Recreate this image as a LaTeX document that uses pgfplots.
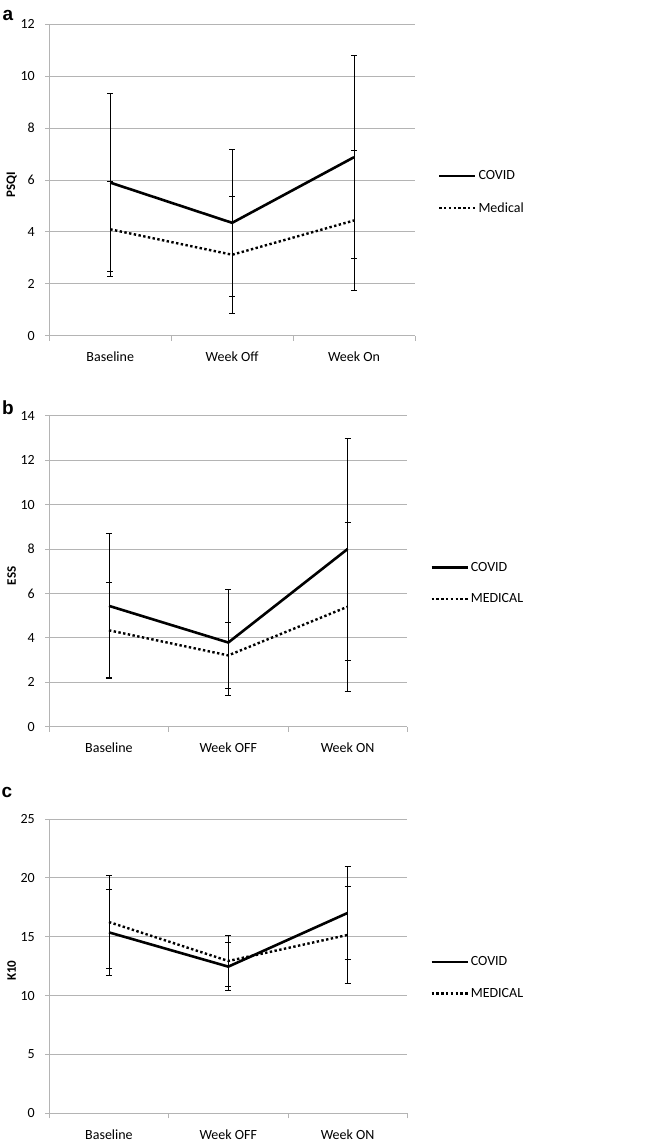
\documentclass[border=0pt]{standalone}
\usepackage{fontspec}
\setmainfont{Carlito}
\newfontfamily\letterfont{Liberation Sans}
\usepackage{pgfplots}
\pgfplotsset{compat=1.18}
\definecolor{GridGray}{RGB}{180,180,180}
\pgfplotsset{
  panel/.style={
    scale only axis, anchor=south west,
    xmin=0.5, xmax=3.5,
    axis x line=bottom, axis y line=left,
    axis line style={draw=GridGray, line width=0.9pt, -},
    xtick={1,2,3}, minor xtick={0.5,1.5,2.5,3.5},
    major x tick style={draw=none},
    minor x tick style={draw=GridGray, line width=0.9pt},
    y tick style={draw=GridGray, line width=0.9pt},
    tick align=outside, major tick length=4pt, minor tick length=5pt,
    ymajorgrids, grid style={draw=GridGray, line width=0.9pt},
    /pgf/number format/assume math mode=true,
    tick label style={font=\fontsize{14}{16}\selectfont, text=black},
    xticklabel style={yshift=-9pt},
    yticklabel style={xshift=-7pt},
    every axis y label/.style={at={(axis description cs:0,0.485)},
      rotate=90, anchor=center, yshift=37.6pt,
      font=\fontsize{13}{15}\selectfont\bfseries},
    legend style={draw=none, fill=none, anchor=west, xshift=22.7pt,
      font=\fontsize{14}{16}\selectfont, row sep=17pt, inner sep=0pt,
      legend cell align=left},
    legend image code/.code={\draw[##1] (0pt,0pt) -- (36pt,0pt);},
  },
  bars/.style={error bars/.cd, y dir=both, y explicit,
    draw error bar/.code 2 args={%
      \draw[solid, black, line width=0.8pt] ##1 -- ##2;
      \draw[solid, black, line width=0.8pt, shift={##2}] (-3pt,0pt) -- (3pt,0pt);}},
  covid/.style={black, line width=2.6pt, mark=none, bars},
  medical/.style={black, line width=2.4pt, dash pattern=on 2.4pt off 2.4pt,
    mark=none, bars},
}
\begin{document}
\begin{tikzpicture}
\path[use as bounding box] (0pt,0pt) rectangle (646pt,-1141pt);

% panel a
\begin{axis}[panel, at={(49.3pt,-335.7pt)}, width=365.7pt, height=311.4pt,
  ymin=0, ymax=12, ytick={0,2,...,12},
  xticklabels={Baseline,Week Off,Week On}, ylabel={PSQI},
  legend style={at={(axis description cs:1,0.461)}}]
\addplot[covid] table[x=x, y=y, y error=e] {
x y e
1 5.90 3.44
2 4.35 2.82
3 6.88 3.92
};
\addlegendentry{COVID}
\addplot[medical] table[x=x, y=y, y error=e] {
x y e
1 4.10 1.83
2 3.12 2.25
3 4.44 2.69
};
\addlegendentry{Medical}
\end{axis}

% panel b
\begin{axis}[panel, at={(49.3pt,-726.7pt)}, width=358pt, height=311pt,
  ymin=0, ymax=14, ytick={0,2,...,14},
  xticklabels={Baseline,Week OFF,Week ON}, ylabel={ESS},
  legend style={at={(axis description cs:1,0.462)}}]
\addplot[covid] table[x=x, y=y, y error=e] {
x y e
1 5.44 3.24
2 3.79 2.38
3 8.00 5.00
};
\addlegendentry{COVID}
\addplot[medical] table[x=x, y=y, y error=e] {
x y e
1 4.34 2.16
2 3.21 1.47
3 5.40 3.80
};
\addlegendentry{MEDICAL}
\end{axis}

% panel c
\begin{axis}[panel, at={(49.3pt,-1113.3pt)}, width=358pt, height=294.3pt,
  ymin=0, ymax=25, ytick={0,5,...,25},
  xticklabels={Baseline,Week OFF,Week ON}, ylabel={K10},
  legend style={at={(axis description cs:1,0.461)}}]
\addplot[covid] table[x=x, y=y, y error=e] {
x y e
1 15.37 3.67
2 12.46 2.05
3 17.02 3.95
};
\addlegendentry{COVID}
\addplot[medical] table[x=x, y=y, y error=e] {
x y e
1 16.25 3.97
2 12.94 2.20
3 15.15 4.10
};
\addlegendentry{MEDICAL}
\end{axis}

\node[font=\letterfont\bfseries\fontsize{19}{21}\selectfont] at (8pt,-15pt) {a};
\node[font=\letterfont\bfseries\fontsize{19}{21}\selectfont] at (8pt,-408pt) {b};
\node[font=\letterfont\bfseries\fontsize{19}{21}\selectfont] at (7pt,-792pt) {c};
\end{tikzpicture}
\end{document}
